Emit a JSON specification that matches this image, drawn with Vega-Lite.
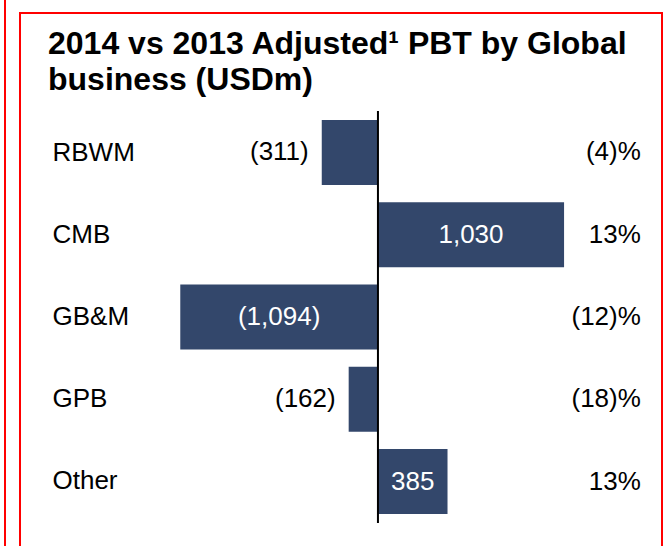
{
  "$schema": "https://vega.github.io/schema/vega-lite/v6.json",
  "autosize": {"type": "none"},
  "width": 642,
  "height": 412,
  "padding": {"left": 20, "top": 111, "right": 6, "bottom": 23},
  "background": "white",
  "config": {"view": {"stroke": null}, "font": "Liberation Sans"},
  "title": {
    "text": ["2014 vs 2013 Adjusted¹ PBT by Global", "business (USDm)"],
    "anchor": "start",
    "frame": "group",
    "dx": 28,
    "offset": -123,
    "fontSize": 32,
    "fontWeight": "bold",
    "font": "Liberation Sans",
    "color": "black",
    "lineHeight": 36,
    "baseline": "alphabetic"
  },
  "data": {
    "values": [
      {"business": "RBWM", "value": -311, "label": "(311)", "pct": "(4)%"},
      {"business": "CMB", "value": 1030, "label": "1,030", "pct": "13%"},
      {"business": "GB&M", "value": -1094, "label": "(1,094)", "pct": "(12)%"},
      {"business": "GPB", "value": -162, "label": "(162)", "pct": "(18)%"},
      {"business": "Other", "value": 385, "label": "385", "pct": "13%"}
    ]
  },
  "resolve": {"scale": {"x": "independent", "y": "independent"}},
  "layer": [
    {
      "data": {"values": [{}]},
      "mark": {"type": "rect", "fillOpacity": 0, "stroke": "#ff0000", "strokeWidth": 2},
      "encoding": {
        "x": {"datum": -1981, "type": "quantitative", "scale": {"domain": [-1981, 1572], "nice": false, "zero": false}, "axis": null},
        "x2": {"datum": 1572},
        "y": {"datum": 1.2379, "type": "quantitative", "scale": {"domain": [0, 1], "nice": false, "zero": false}, "axis": null},
        "y2": {"datum": -0.09}
      }
    },
    {
      "data": {"values": [{}]},
      "mark": {"type": "rule", "stroke": "#ff0000", "strokeWidth": 2},
      "encoding": {
        "x": {"datum": -2064, "type": "quantitative", "scale": {"domain": [-1981, 1572], "nice": false, "zero": false}, "axis": null},
        "y": {"datum": 1.2694, "type": "quantitative", "scale": {"domain": [0, 1], "nice": false, "zero": false}, "axis": null},
        "y2": {"datum": -0.09}
      }
    },
    {
      "mark": {"type": "bar", "color": "#33476b"},
      "encoding": {
        "y": {
          "field": "business", "type": "nominal", "sort": null,
          "scale": {"domain": ["RBWM", "CMB", "GB&M", "GPB", "Other"], "paddingInner": 0.21, "paddingOuter": 0.11},
          "axis": {"orient": "left", "domain": false, "ticks": false, "grid": false, "title": null,
                   "labelAlign": "left", "labelPadding": -32, "labelFontSize": 26, "labelFont": "Liberation Sans",
                   "labelColor": "black", "labelBaseline": "middle"}
        },
        "x": {"field": "value", "type": "quantitative", "scale": {"domain": [-1981, 1572], "nice": false, "zero": false}, "axis": null}
      }
    },
    {
      "data": {"values": [{}]},
      "mark": {"type": "rule", "stroke": "black", "strokeWidth": 2},
      "encoding": {
        "x": {"datum": 0, "type": "quantitative", "scale": {"domain": [-1981, 1572], "nice": false, "zero": false}, "axis": null}
      }
    },
    {
      "transform": [{"filter": "abs(datum.value) >= 350"}],
      "mark": {"type": "text", "color": "white", "fontSize": 26, "align": "center", "baseline": "middle", "font": "Liberation Sans"},
      "encoding": {
        "y": {"field": "business", "type": "nominal", "sort": null,
              "scale": {"domain": ["RBWM", "CMB", "GB&M", "GPB", "Other"], "paddingInner": 0.21, "paddingOuter": 0.11}, "axis": null},
        "x": {"field": "value", "type": "quantitative", "scale": {"domain": [-3962, 3144], "nice": false, "zero": false}, "axis": null},
        "text": {"field": "label"}
      }
    },
    {
      "transform": [{"filter": "abs(datum.value) < 350"}],
      "mark": {"type": "text", "color": "black", "fontSize": 26, "align": "right", "baseline": "middle", "dx": -13, "font": "Liberation Sans"},
      "encoding": {
        "y": {"field": "business", "type": "nominal", "sort": null,
              "scale": {"domain": ["RBWM", "CMB", "GB&M", "GPB", "Other"], "paddingInner": 0.21, "paddingOuter": 0.11}, "axis": null},
        "x": {"field": "value", "type": "quantitative", "scale": {"domain": [-1981, 1572], "nice": false, "zero": false}, "axis": null},
        "text": {"field": "label"}
      }
    },
    {
      "mark": {"type": "text", "color": "black", "fontSize": 26, "align": "right", "baseline": "middle", "font": "Liberation Sans"},
      "encoding": {
        "y": {"field": "business", "type": "nominal", "sort": null,
              "scale": {"domain": ["RBWM", "CMB", "GB&M", "GPB", "Other"], "paddingInner": 0.21, "paddingOuter": 0.11}, "axis": null},
        "x": {"datum": 1455, "type": "quantitative", "scale": {"domain": [-1981, 1572], "nice": false, "zero": false}, "axis": null},
        "text": {"field": "pct"}
      }
    }
  ]
}
